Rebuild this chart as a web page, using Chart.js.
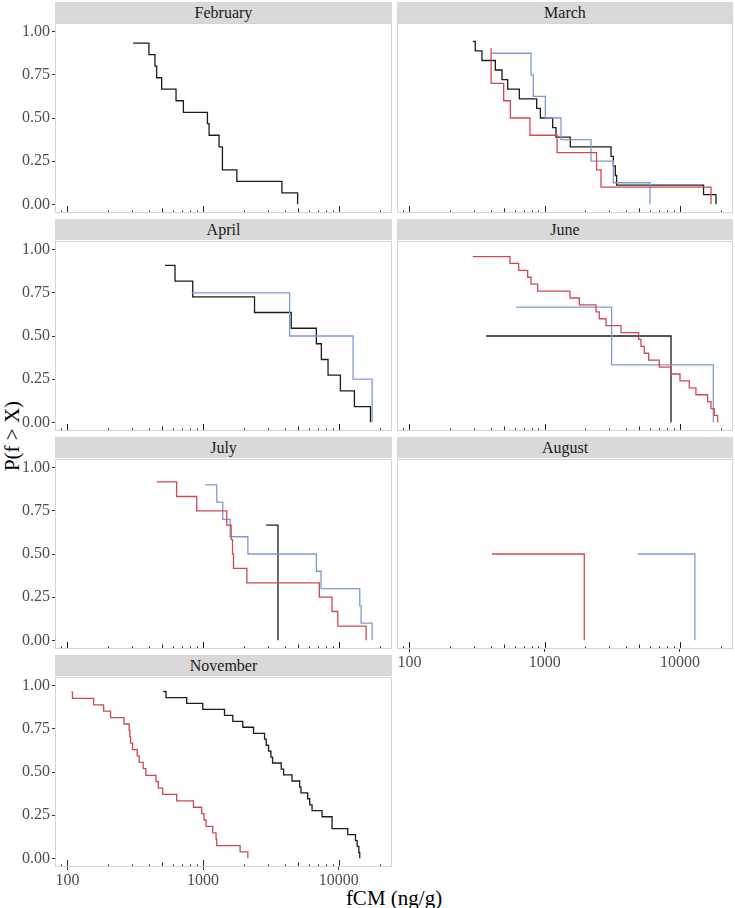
<!DOCTYPE html>
<html>
<head>
<meta charset="utf-8">
<title>fCM by month</title>
<script src="https://cdn.jsdelivr.net/npm/chart.js@4.4.1/dist/chart.umd.min.js"></script>
<style>
  body { margin: 0; background: #fff; font-family: "Liberation Serif", "DejaVu Serif", serif; }
  #page { position: relative; width: 735px; height: 908px; overflow: hidden; background: #fff; }
  .strip { position: absolute; height: 21px; line-height: 22px; background: #d9d9d9; color: #1a1a1a; font-size: 16px; text-align: center; }
  canvas { position: absolute; }
  #ytitle { position: absolute; left: 12px; top: 436px; transform: translate(-50%, -50%) rotate(-90deg); font-size: 21px; color: #000; white-space: nowrap; }
  #xtitle { position: absolute; left: 394px; top: 898px; transform: translate(-50%, -50%); font-size: 21px; color: #000; white-space: nowrap; }
</style>
</head>
<body>
<div id="page">
  <div id="ytitle">P(f &gt; X)</div>
  <div id="xtitle">fCM (ng/g)</div>
</div>
<script>
// facets, in reading order
const months = ["February", "March", "April", "June", "July", "August", "November"];

// axis ticks
const xTickValues = [100, 1000, 10000];
const yTickValues = [0, 0.25, 0.5, 0.75, 1];
const logTickValues = [90, 100, 200, 300, 400, 500, 600, 700, 800, 900,
  1000, 2000, 3000, 4000, 5000, 6000, 7000, 8000, 9000, 10000, 20000];

// fCM values (ng/g) and P(f > X)
const febBlackX = [305, 399, 442, 455, 495, 632, 716, 1077, 1107, 1312, 1389, 1774, 3813, 4977];
const febBlackY = [0.933, 0.867, 0.8, 0.733, 0.667, 0.6, 0.533, 0.467, 0.4, 0.333, 0.2, 0.133, 0.067, 0];

const marBlackX = [294, 307, 344, 432, 484, 533, 650, 873, 930, 1146, 1213, 1548, 3097, 3222, 3333, 3407, 14960, 18490];
const marBlackY = [0.944, 0.889, 0.833, 0.778, 0.722, 0.667, 0.611, 0.556, 0.5, 0.444, 0.389, 0.333, 0.278, 0.222, 0.167, 0.111, 0.056, 0];
const marRedX = [397, 402, 498, 558, 779, 1236, 2421, 2610, 16980];
const marRedY = [0.9, 0.7, 0.6, 0.5, 0.4, 0.3, 0.2, 0.1, 0];
const marBlueX = [408, 793, 825, 1012, 1321, 2203, 3222, 6012];
const marBlueY = [0.875, 0.75, 0.625, 0.5, 0.375, 0.25, 0.125, 0];

const aprBlackX = [524, 621, 839, 2395, 4467, 6839, 7447, 8340, 10290, 13050, 17140];
const aprBlackY = [0.909, 0.818, 0.727, 0.636, 0.545, 0.455, 0.364, 0.273, 0.182, 0.091, 0];
const aprBlueX = [824, 4345, 12760, 17620];
const aprBlueY = [0.75, 0.5, 0.25, 0];

const junRedX = [294, 554, 643, 749, 793, 888, 1541, 1805, 2397, 2535, 2843, 3671, 4955, 5155, 5456, 5875,
  7043, 8598, 10020, 11730, 13140, 16030, 16980, 17950, 19000];
const junRedY = [0.96, 0.92, 0.88, 0.84, 0.8, 0.76, 0.72, 0.68, 0.64, 0.6, 0.56, 0.52, 0.48, 0.44, 0.4, 0.36,
  0.32, 0.28, 0.24, 0.2, 0.16, 0.12, 0.08, 0.04, 0];
const junBlueX = [615, 3127, 17660];
const junBlueY = [0.667, 0.333, 0];
const junBlackX = [369, 8598];
const junBlackY = [0.5, 0];

const julRedX = [455, 638, 898, 1496, 1611, 1648, 1676, 2103, 7195, 8925, 9842, 15920];
const julRedY = [0.917, 0.833, 0.75, 0.667, 0.583, 0.5, 0.417, 0.333, 0.25, 0.167, 0.083, 0];
const julBlueX = [1034, 1262, 1397, 1584, 2139, 6841, 7404, 14290, 14620, 17620];
const julBlueY = [0.9, 0.8, 0.7, 0.6, 0.5, 0.4, 0.3, 0.2, 0.1, 0];
const julBlackX = [2924, 3565];
const julBlackY = [0.667, 0];

const augRedX = [408, 1964];
const augRedY = [0.5, 0];
const augBlueX = [4876, 12910];
const augBlueY = [0.5, 0];

const novRedX = [107, 109, 156, 185, 208, 261, 285, 289, 292, 302, 327, 338, 362, 379, 450, 468, 504, 639,
  849, 977, 1016, 1052, 1178, 1247, 1261, 1875, 2138];
const novRedY = [0.963, 0.926, 0.889, 0.852, 0.815, 0.778, 0.741, 0.704, 0.667, 0.63, 0.593, 0.556, 0.519,
  0.481, 0.444, 0.407, 0.37, 0.333, 0.296, 0.259, 0.222, 0.185, 0.148, 0.111, 0.074, 0.037, 0];
const novBlackX = [509, 533, 757, 995, 1439, 1656, 1964, 2355, 2839, 2922, 3041, 3165, 3254, 3770, 3924, 4522,
  5150, 5269, 5905, 6110, 6358, 7535, 8929, 11660, 13290, 13670, 14070, 14290];
const novBlackY = [0.966, 0.931, 0.897, 0.862, 0.828, 0.793, 0.759, 0.724, 0.69, 0.655, 0.621, 0.586, 0.552,
  0.517, 0.483, 0.448, 0.414, 0.379, 0.345, 0.31, 0.276, 0.241, 0.172, 0.138, 0.103, 0.069, 0.034, 0];

const RED = "#d2484f";
const BLUE = "#7e9bd1";
const BLACK = "#1c1c1c";

// red first so it ends up drawn on top
const curves = {
  February: [[febBlackX, febBlackY, BLACK]],
  March: [[marRedX, marRedY, RED], [marBlueX, marBlueY, BLUE], [marBlackX, marBlackY, BLACK]],
  April: [[aprBlueX, aprBlueY, BLUE], [aprBlackX, aprBlackY, BLACK]],
  June: [[junRedX, junRedY, RED], [junBlueX, junBlueY, BLUE], [junBlackX, junBlackY, BLACK]],
  July: [[julRedX, julRedY, RED], [julBlueX, julBlueY, BLUE], [julBlackX, julBlackY, BLACK]],
  August: [[augRedX, augRedY, RED], [augBlueX, augBlueY, BLUE]],
  November: [[novRedX, novRedY, RED], [novBlackX, novBlackY, BLACK]]
};

const xMin = 81, xMax = 24700;
const colLeft = [55, 397], colRight = [392, 733];
const stripTops = [2, 219, 437, 655];
const plotTops = [23, 241, 459, 677];
const plotH = 190;
const tickFont = { family: "Liberation Serif", size: 16 };

// log ticks inside the panel bottom + light panel border
const panelDecor = {
  id: "panelDecor",
  afterDatasetsDraw(chart) {
    const ctx = chart.ctx, a = chart.chartArea, xs = chart.scales.x;
    ctx.save();
    ctx.strokeStyle = "#222";
    ctx.lineWidth = 1;
    logTickValues.forEach(v => {
      const px = Math.round(xs.getPixelForValue(v)) + 0.5;
      const lead = Math.round(v / Math.pow(10, Math.floor(Math.log10(v) + 1e-9)));
      const len = lead === 1 ? 7 : (lead === 5 ? 4.5 : 2.5);
      ctx.beginPath();
      ctx.moveTo(px, a.bottom);
      ctx.lineTo(px, a.bottom - len);
      ctx.stroke();
    });
    ctx.strokeStyle = "#d4d4d4";
    ctx.strokeRect(a.left + 0.5, a.top + 0.5, a.right - a.left - 1, a.bottom - a.top - 1);
    ctx.restore();
  }
};

const page = document.getElementById("page");

months.forEach((month, i) => {
  const col = i % 2, row = Math.floor(i / 2);
  const isBottom = i >= 5;

  const strip = document.createElement("div");
  strip.className = "strip";
  strip.style.left = colLeft[col] + "px";
  strip.style.width = (colRight[col] - colLeft[col]) + "px";
  strip.style.top = stripTops[row] + "px";
  strip.textContent = month;
  page.appendChild(strip);

  const cv = document.createElement("canvas");
  const left = col === 0 ? 0 : colLeft[1];
  const w = colRight[col] - left;
  const h = plotH + (isBottom ? 30 : 0);
  cv.width = w; cv.height = h;
  cv.style.left = left + "px";
  cv.style.top = plotTops[row] + "px";
  cv.style.width = w + "px"; cv.style.height = h + "px";
  page.appendChild(cv);

  const datasets = curves[month].map(([xv, yv, color]) => ({
    data: xv.map((x, k) => ({ x: x, y: yv[k] })),
    borderColor: color,
    borderWidth: 1.3,
    pointRadius: 0,
    stepped: true,
    fill: false
  }));

  new Chart(cv, {
    type: "line",
    data: { datasets: datasets },
    options: {
      responsive: false,
      animation: false,
      layout: { padding: 0 },
      plugins: { legend: { display: false }, tooltip: { enabled: false } },
      scales: {
        x: {
          type: "logarithmic",
          min: xMin,
          max: xMax,
          display: isBottom,
          afterBuildTicks: s => { s.ticks = xTickValues.map(v => ({ value: v })); },
          afterFit: s => { s.height = isBottom ? 30 : 0; s.paddingLeft = 0; s.paddingRight = 0; },
          grid: { drawOnChartArea: false, drawTicks: true, tickLength: 3, color: "#333" },
          border: { display: false },
          ticks: { autoSkip: false, maxRotation: 0, padding: 1, color: "#4d4d4d", font: tickFont, callback: v => String(v) }
        },
        y: {
          type: "linear",
          min: -0.05,
          max: 1.05,
          display: col === 0,
          afterBuildTicks: s => { s.ticks = yTickValues.map(v => ({ value: v })); },
          afterFit: s => { s.width = col === 0 ? 55 : 0; s.paddingTop = 0; s.paddingBottom = 0; },
          grid: { drawOnChartArea: false, drawTicks: true, tickLength: 3, color: "#333" },
          border: { display: false },
          ticks: { padding: 2, color: "#4d4d4d", font: tickFont, callback: v => v.toFixed(2) }
        }
      }
    },
    plugins: [panelDecor]
  });
});
</script>
</body>
</html>
